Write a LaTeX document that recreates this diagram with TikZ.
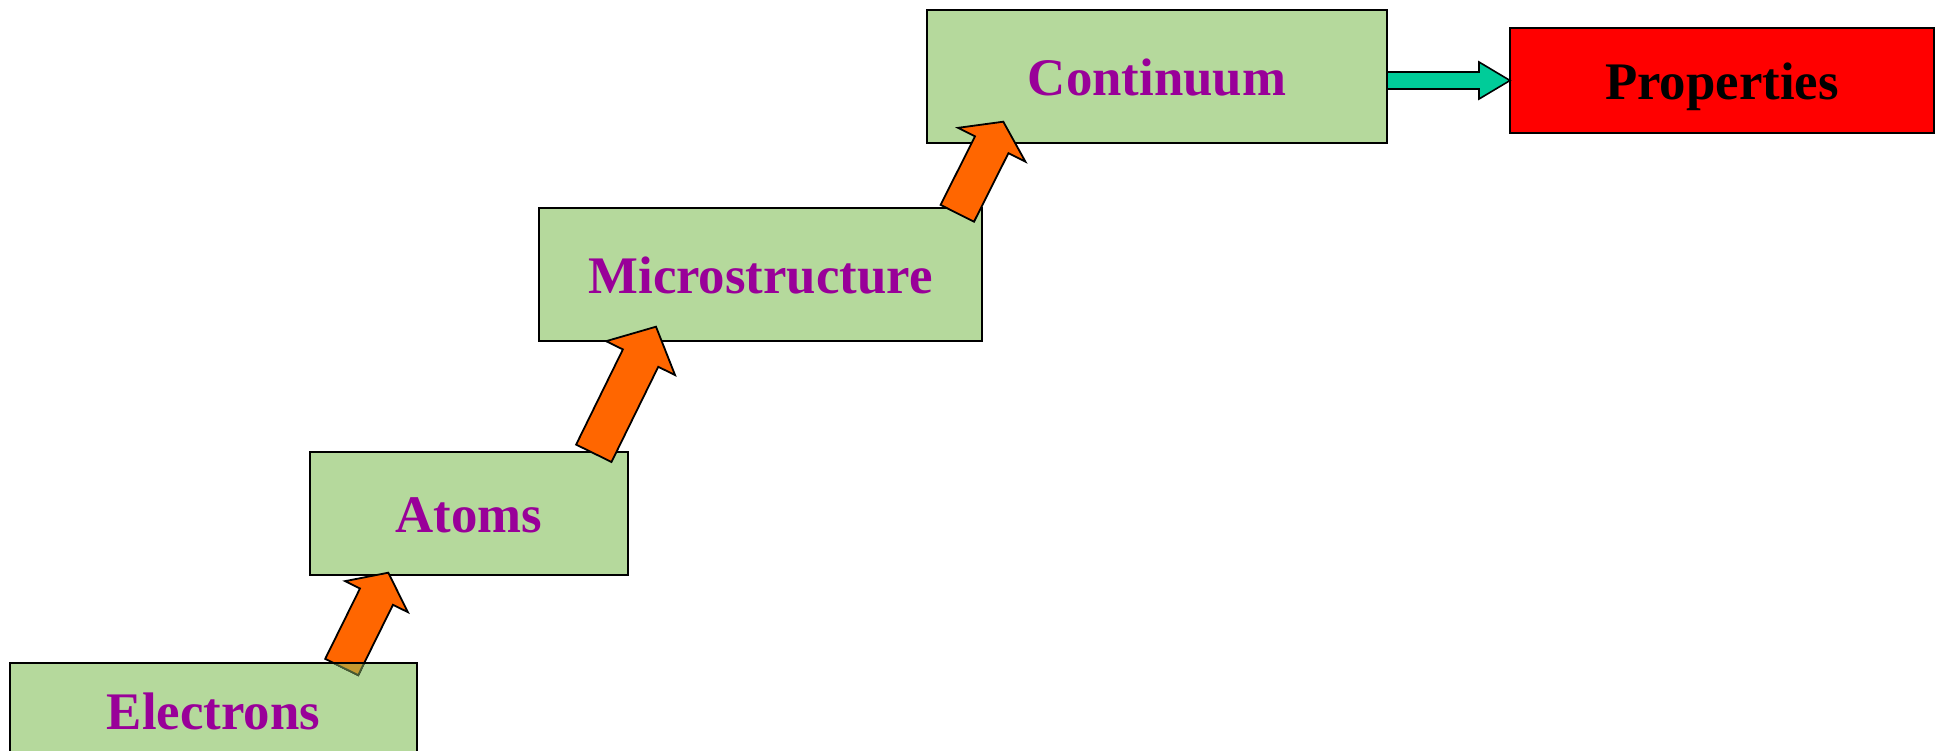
\documentclass[tikz,border=0pt]{standalone}
\usepackage{fontspec}
\setmainfont{Liberation Serif}
\usetikzlibrary{calc}
\definecolor{boxgreen}{RGB}{181,217,156}
\definecolor{txtpurple}{RGB}{153,0,153}
\definecolor{arrorange}{RGB}{255,102,0}
\definecolor{arrteal}{RGB}{0,204,153}
\definecolor{mixbrown}{RGB}{196,152,48}
\definecolor{mixolive}{RGB}{70,90,50}
\newcommand{\mkarrow}[6]{%
  \path ($(#3)!#6!(#2)$) coordinate (#2-hb);
  \draw[#1] ($(#2)!#4!90:(#3)$) -- ($(#2-hb)!#4!90:(#3)$) -- ($(#2-hb)!#5!90:(#3)$) -- (#3) -- ($(#2-hb)!#5!-90:(#3)$) -- ($(#2-hb)!#4!-90:(#3)$) -- ($(#2)!#4!-90:(#3)$) -- cycle;
}
\tikzset{
  box/.style={draw=black, line width=0.9pt, fill=boxgreen, inner sep=0pt, outer sep=0pt,
    text=txtpurple, font=\fontsize{26.4pt}{30pt}\selectfont\bfseries,
    text height=19.3pt, text depth=0pt},
  propbox/.style={box, fill=red, text=black},
  orangearrow/.style={draw=black, line width=0.9pt, fill=arrorange, line join=miter},
  tealarrow/.style={draw=black, line width=0.8pt, fill=arrteal, line join=miter},
  overlaparrow/.style={draw=mixolive, line width=0.9pt, fill=mixbrown, line join=miter}
}
\begin{document}
\begin{tikzpicture}[x=0.5pt, y=-0.5pt]
\useasboundingbox (0,0) rectangle (1944,750);
\clip (0,0) rectangle (1944,750);
\fill[white] (0,0) rectangle (1944,750);

\node[box, minimum width=203.5pt, minimum height=47pt] (el) at (213.5,710) {Electrons};
\node[box, minimum width=159pt, minimum height=61.5pt] (at) at (469,513.5) {Atoms};
\node[box, minimum width=221.5pt, minimum height=66.5pt] (mi) at (760.5,274.5) {Microstructure};
\node[box, minimum width=230pt, minimum height=66.5pt] (co) at (1157,76.5) {Continuum};
\node[propbox, minimum width=212pt, minimum height=52.5pt] (pr) at (1722,80.5) {Properties};

% arrow end points
\coordinate (a1t) at (341.7,667);
\coordinate (a1h) at (388.3,572.7);
\coordinate (a2t) at (593.8,453.3);
\coordinate (a2h) at (656,326.7);
\coordinate (a3t) at (957.3,213.3);
\coordinate (a3h) at (1003.3,121.7);
\coordinate (ct) at (co.east |- pr.west);

\mkarrow{orangearrow}{a1t}{a1h}{9.2pt}{17.5pt}{13.35pt}
\begin{scope}
  \clip (el.south west) rectangle (el.north east);
  \mkarrow{overlaparrow}{a1t}{a1h}{9.2pt}{17.5pt}{13.35pt}
\end{scope}
\draw[line width=0.9pt] (el.north west) -- (el.north east);

\mkarrow{orangearrow}{a2t}{a2h}{9.85pt}{19.2pt}{17.5pt}
\mkarrow{orangearrow}{a3t}{a3h}{9.35pt}{18.85pt}{12.9pt}
\mkarrow{tealarrow}{ct}{pr.west}{4.25pt}{9.25pt}{15.5pt}
\end{tikzpicture}
\end{document}
